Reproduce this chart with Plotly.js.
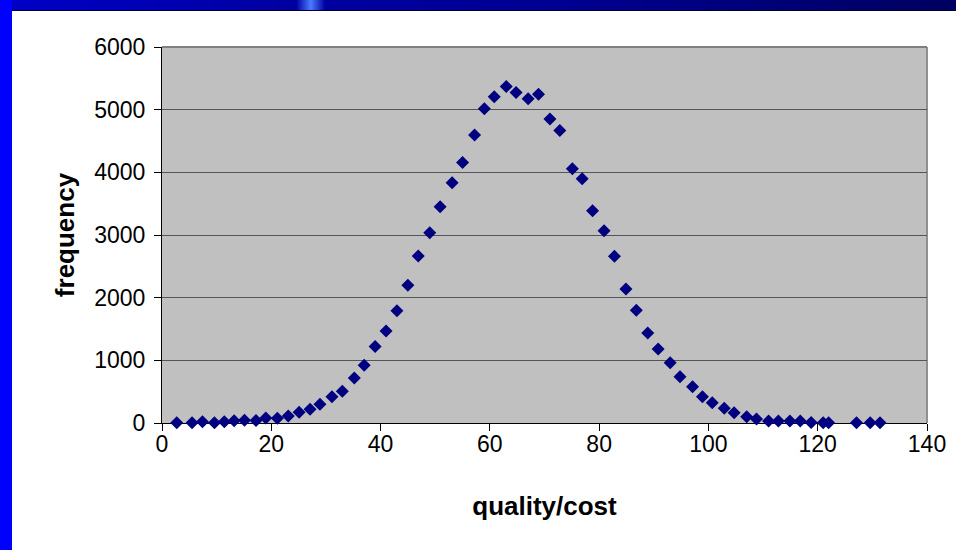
<!DOCTYPE html>
<html>
<head>
<meta charset="utf-8">
<script src="https://cdn.plot.ly/plotly-3.0.1.min.js"></script>
<style>
  html, body { margin: 0; padding: 0; background: #ffffff; }
  #wrap { position: relative; width: 956px; height: 550px; overflow: hidden; background: #ffffff; }
  #chart { position: absolute; left: 0; top: 0; width: 956px; height: 550px; }
  #topband { position: absolute; left: 0; top: 0; width: 956px; height: 10px;
    background: linear-gradient(to right, #0000c8 0%, #0000a8 25%, #0000a0 31%, #4a7bff 32.5%, #0000a0 34%, #000090 60%, #000060 100%);
    border-bottom: 1px solid #000030; }
  #leftband { position: absolute; left: 0; top: 0; width: 12px; height: 550px; background: #0000ff; }
</style>
</head>
<body>
<div id="wrap">
  <div id="chart"></div>
  <div id="topband"></div>
  <div id="leftband"></div>
</div>
<script>
// quality/cost values (x) and frequencies (y)
const qualityCost = [2.7, 5.5, 7.4, 9.6, 11.4, 13.2, 15.1, 17.2, 19.0, 21.1,
  23.1, 25.1, 27.1, 28.9, 31.1, 33.0, 35.2, 37.0, 39.0, 41.0,
  43.0, 45.0, 46.9, 49.0, 50.9, 53.1, 55.0, 57.2, 59.0, 60.8,
  63.0, 64.8, 67.0, 68.9, 71.0, 72.8, 75.1, 76.9, 78.8, 80.9,
  82.8, 84.9, 86.8, 88.9, 90.8, 93.0, 94.8, 97.1, 98.9, 100.7,
  102.9, 104.7, 107.0, 108.8, 111.0, 112.8, 114.9, 116.8, 118.8, 121.0,
  122.0, 127.1, 129.6, 131.4];
const frequency = [5, 5, 20, 5, 20, 35, 45, 40, 80, 75,
  110, 170, 220, 300, 420, 505, 720, 920, 1220, 1470,
  1790, 2200, 2665, 3037, 3452, 3835, 4155, 4597, 5016, 5208,
  5368, 5272, 5176, 5246, 4852, 4666, 4059, 3899, 3388, 3069,
  2660, 2140, 1800, 1436, 1181, 963, 740, 580, 420, 324,
  235, 164, 100, 62, 30, 30, 30, 30, 8, 5,
  5, 5, 5, 5];
const xTitle = "quality/cost";
const yTitle = "frequency";

const trace = {
  type: "scatter",
  mode: "markers",
  x: qualityCost,
  y: frequency,
  cliponaxis: false,
  marker: { symbol: "diamond", size: 10, color: "#000080", line: { width: 0 } },
  hoverinfo: "skip"
};

const tickFont = { family: "Liberation Sans, Arial, sans-serif", size: 23, color: "#000000" };
const titleFont = { family: "Liberation Sans, Arial, sans-serif", size: 26, color: "#000000", weight: "bold" };

const layout = {
  width: 956,
  height: 550,
  margin: { l: 162, r: 29, t: 47, b: 127 },
  paper_bgcolor: "#ffffff",
  plot_bgcolor: "#c0c0c0",
  showlegend: false,
  xaxis: {
    range: [0, 140],
    dtick: 20,
    tick0: 0,
    ticks: "outside",
    ticklen: 7,
    tickwidth: 1,
    tickcolor: "#000000",
    showline: true,
    linecolor: "#000000",
    linewidth: 1,
    showgrid: false,
    zeroline: false,
    layer: "below traces",
    tickfont: tickFont,
    ticklabelstandoff: -7,
    title: { text: "<b>" + xTitle + "</b>", font: titleFont, standoff: 41 },
    automargin: false
  },
  yaxis: {
    range: [0, 6000],
    dtick: 1000,
    tick0: 0,
    ticks: "outside",
    ticklen: 7,
    tickwidth: 1,
    tickcolor: "#000000",
    showline: true,
    linecolor: "#000000",
    linewidth: 1,
    showgrid: true,
    gridcolor: "#555555",
    gridwidth: 1,
    zeroline: false,
    layer: "below traces",
    tickfont: tickFont,
    ticklabelstandoff: 4,
    title: { text: "<b>" + yTitle + "</b>", font: titleFont, standoff: 12 },
    automargin: false
  },
  shapes: [
    { type: "line", xref: "paper", yref: "paper", x0: 0, x1: 1, y0: 1, y1: 1,
      line: { color: "#808080", width: 2 }, layer: "above" },
    { type: "line", xref: "paper", yref: "paper", x0: 1, x1: 1, y0: 0, y1: 1,
      line: { color: "#909090", width: 2 }, layer: "below" }
  ]
};

Plotly.newPlot("chart", [trace], layout, { displayModeBar: false, staticPlot: true });
</script>
</body>
</html>
